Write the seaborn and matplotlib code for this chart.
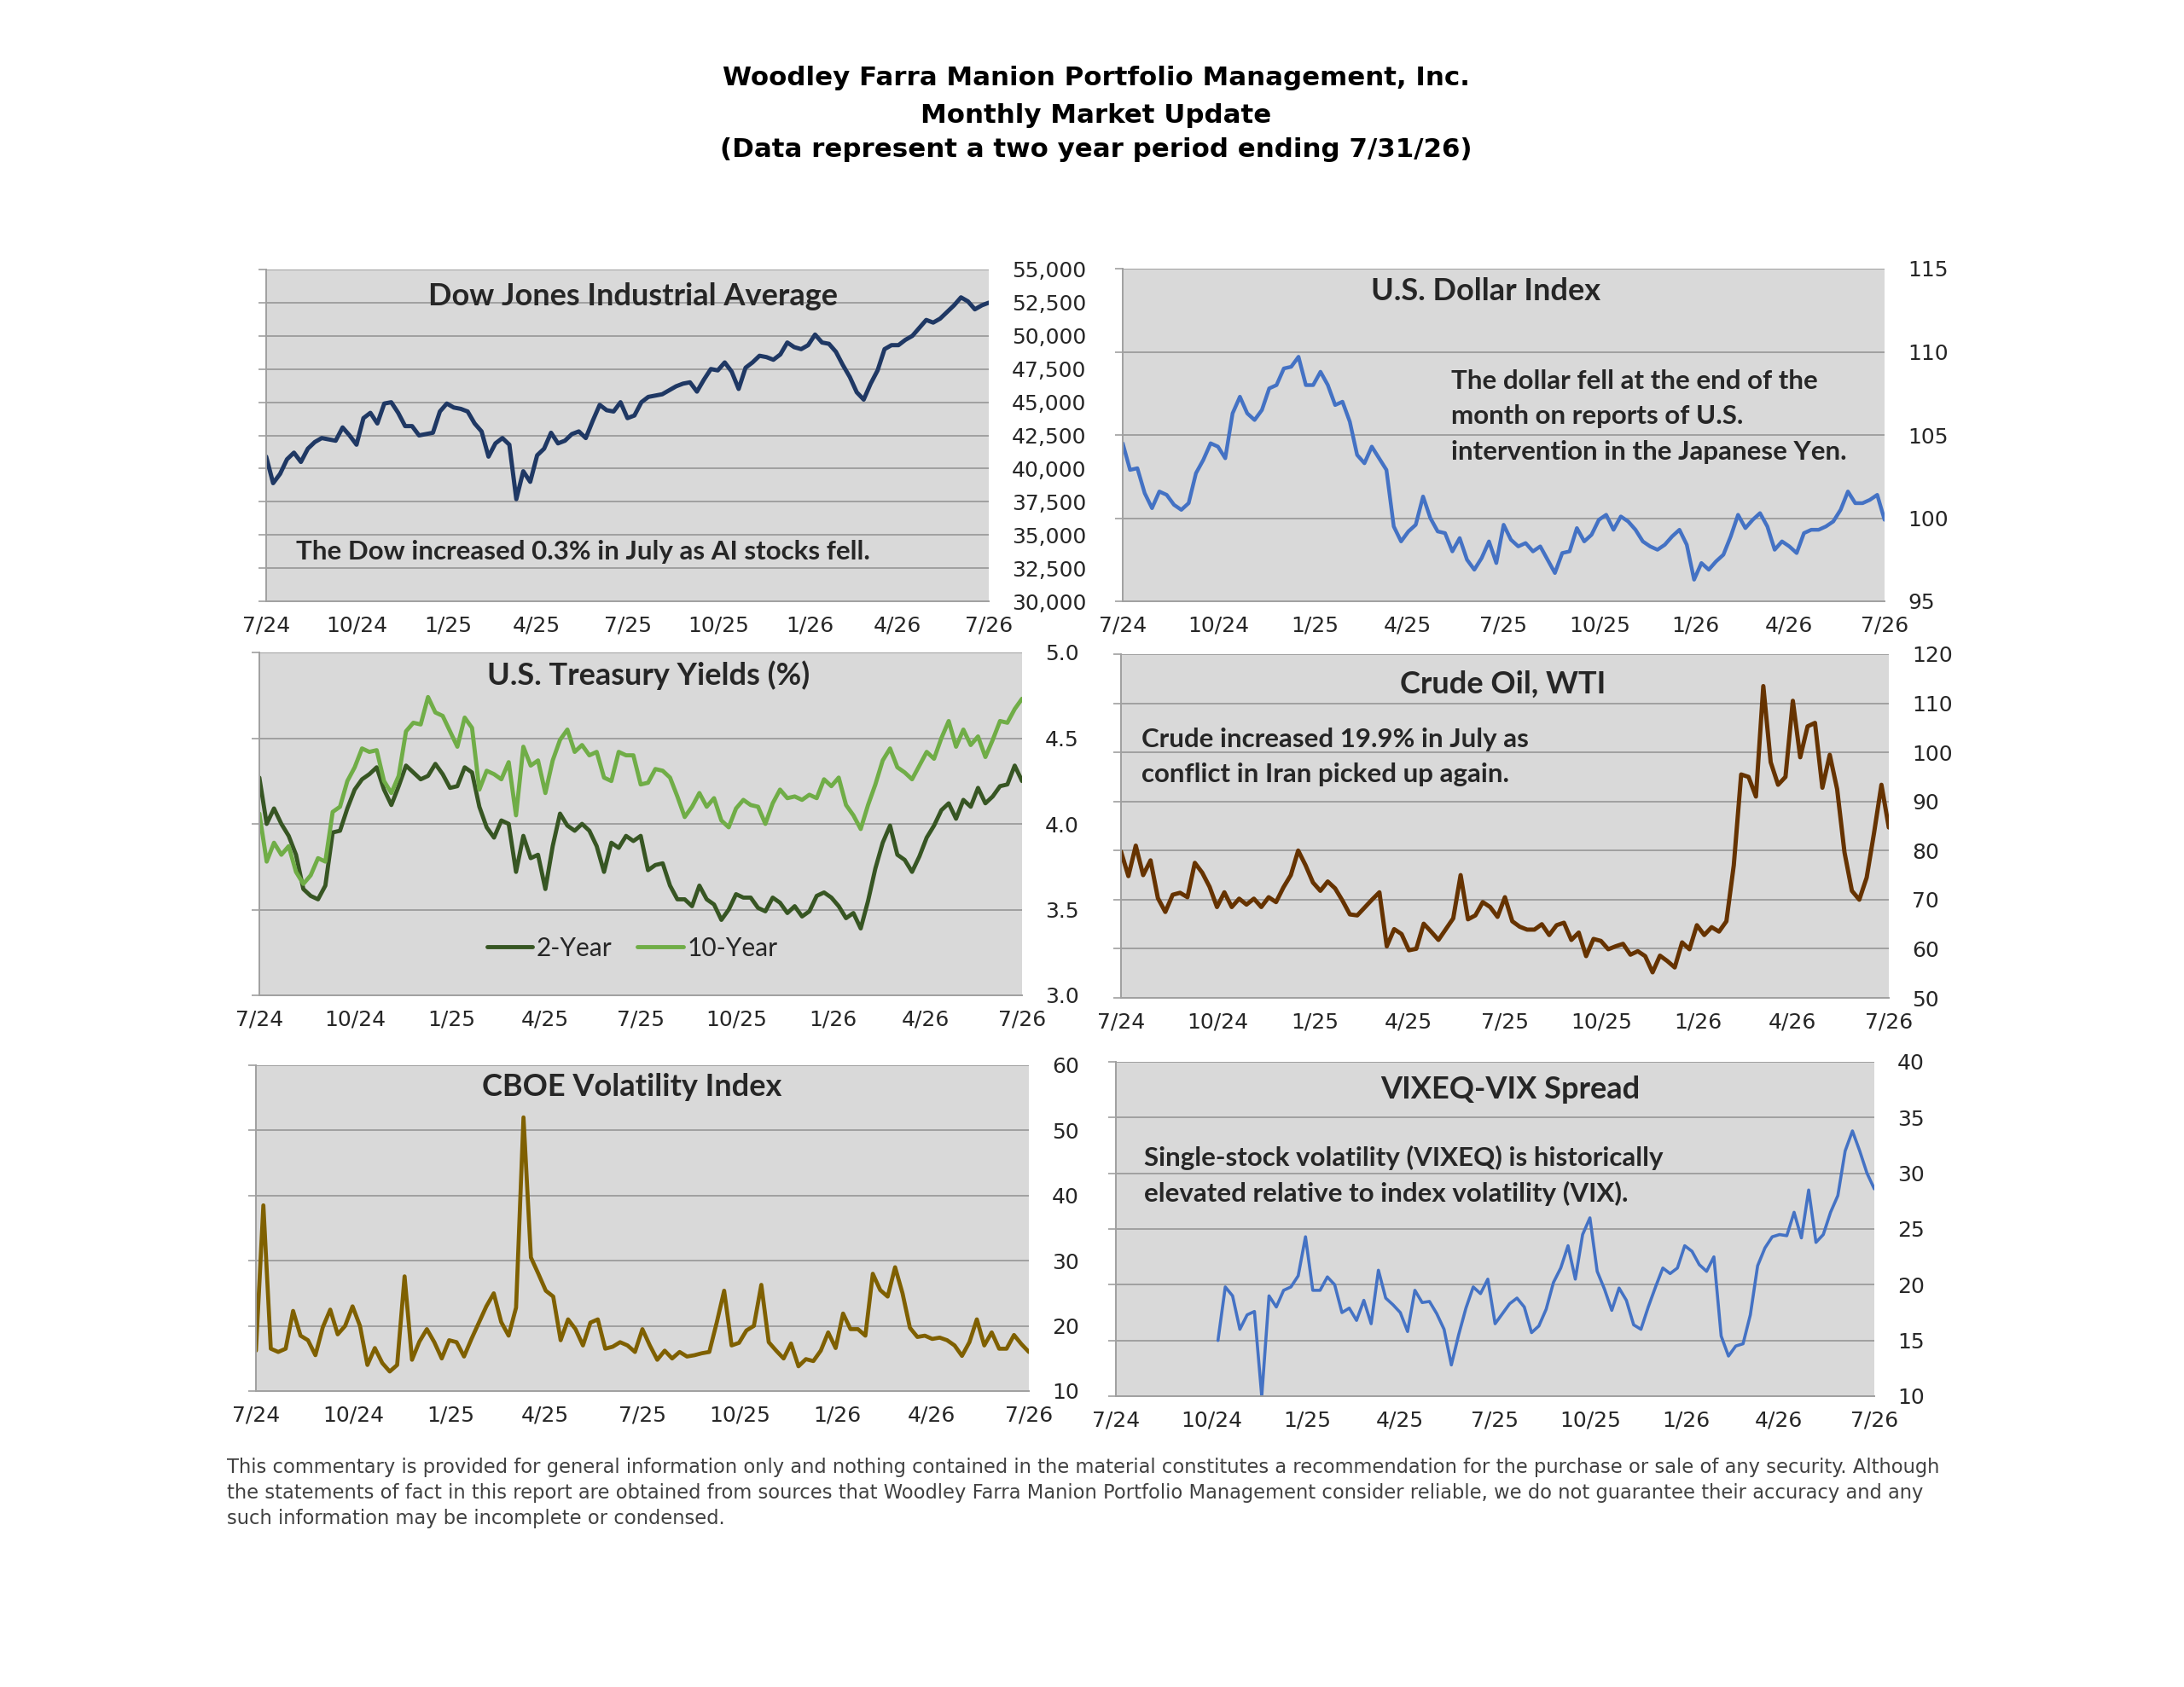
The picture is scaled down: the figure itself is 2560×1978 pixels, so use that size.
import numpy as np
import pandas as pd
import seaborn as sns
import matplotlib.pyplot as plt
from matplotlib.ticker import FuncFormatter

sns.set_style("white")
plt.rcParams["font.family"] = ["DejaVu Sans"]

# weekly values, 7/31/24 .. 7/31/26
dow = [40900, 38900, 39600, 40700, 41200, 40500, 41500, 42000, 42300, 42200,
       42100, 43100, 42500, 41800, 43800, 44200, 43400, 44900, 45000, 44200,
       43200, 43200, 42500, 42600, 42700, 44300, 44900, 44600, 44500, 44300,
       43400, 42800, 40900, 41900, 42300, 41800, 37700, 39800, 39000, 41000,
       41500, 42700, 41900, 42100, 42600, 42800, 42300, 43600, 44800, 44400,
       44300, 45000, 43800, 44000, 45000, 45400, 45500, 45600, 45900, 46200,
       46400, 46500, 45800, 46700, 47500, 47400, 48000, 47300, 46000, 47600,
       48000, 48500, 48400, 48200, 48600, 49500, 49150, 49000, 49300, 50100,
       49500, 49400, 48800, 47800, 46900, 45750, 45200, 46400, 47400, 49000,
       49300, 49300, 49700, 50000, 50600, 51200, 51000, 51300, 51800, 52300,
       52900, 52600, 52000, 52300, 52500]

dollar = [104.5, 102.9, 103.0, 101.5, 100.6, 101.6, 101.4, 100.8, 100.5, 100.9,
          102.7, 103.5, 104.5, 104.3, 103.6, 106.3, 107.3, 106.3, 105.9, 106.5,
          107.8, 108.0, 109.0, 109.1, 109.7, 108.0, 108.0, 108.8, 108.0, 106.8,
          107.0, 105.8, 103.8, 103.3, 104.3, 103.6, 102.9, 99.5, 98.6, 99.2,
          99.6, 101.3, 100.0, 99.2, 99.1, 98.0, 98.8, 97.5, 96.9, 97.6,
          98.6, 97.3, 99.6, 98.7, 98.3, 98.5, 98.0, 98.3, 97.5, 96.7,
          97.9, 98.0, 99.4, 98.6, 99.0, 99.9, 100.2, 99.3, 100.1, 99.8,
          99.3, 98.6, 98.3, 98.1, 98.4, 98.9, 99.3, 98.4, 96.3, 97.3,
          96.9, 97.4, 97.8, 98.9, 100.2, 99.4, 99.9, 100.3, 99.5, 98.1,
          98.6, 98.3, 97.9, 99.1, 99.3, 99.3, 99.5, 99.8, 100.5, 101.6,
          100.9, 100.9, 101.1, 101.4, 99.9]

two_year = [4.27, 4.00, 4.09, 4.00, 3.93, 3.82, 3.62, 3.58, 3.56, 3.64,
            3.95, 3.96, 4.09, 4.20, 4.26, 4.29, 4.33, 4.20, 4.11, 4.22,
            4.34, 4.30, 4.26, 4.28, 4.35, 4.29, 4.21, 4.22, 4.33, 4.30,
            4.10, 3.98, 3.92, 4.02, 4.00, 3.72, 3.93, 3.80, 3.82, 3.62,
            3.87, 4.06, 3.99, 3.96, 4.00, 3.96, 3.87, 3.72, 3.89, 3.86,
            3.93, 3.90, 3.93, 3.73, 3.76, 3.77, 3.64, 3.56, 3.56, 3.52,
            3.64, 3.56, 3.53, 3.44, 3.50, 3.59, 3.57, 3.57, 3.51, 3.49,
            3.57, 3.54, 3.48, 3.52, 3.46, 3.49, 3.58, 3.60, 3.57, 3.52,
            3.45, 3.48, 3.39, 3.55, 3.74, 3.89, 3.99, 3.82, 3.79, 3.72,
            3.81, 3.92, 3.99, 4.08, 4.12, 4.03, 4.14, 4.10, 4.21, 4.12,
            4.16, 4.22, 4.23, 4.34, 4.25]

ten_year = [4.06, 3.78, 3.89, 3.82, 3.87, 3.72, 3.65, 3.70, 3.80, 3.78,
            4.07, 4.10, 4.25, 4.33, 4.44, 4.42, 4.43, 4.25, 4.18, 4.28,
            4.54, 4.59, 4.58, 4.74, 4.65, 4.63, 4.54, 4.45, 4.62, 4.56,
            4.20, 4.31, 4.29, 4.26, 4.36, 4.05, 4.45, 4.34, 4.37, 4.18,
            4.37, 4.49, 4.55, 4.42, 4.46, 4.40, 4.42, 4.27, 4.25, 4.42,
            4.40, 4.40, 4.23, 4.24, 4.32, 4.31, 4.27, 4.16, 4.04, 4.10,
            4.18, 4.10, 4.15, 4.02, 3.98, 4.09, 4.14, 4.11, 4.10, 4.00,
            4.12, 4.20, 4.15, 4.16, 4.14, 4.17, 4.15, 4.26, 4.22, 4.27,
            4.11, 4.05, 3.97, 4.11, 4.23, 4.37, 4.44, 4.33, 4.30, 4.26,
            4.34, 4.42, 4.38, 4.50, 4.60, 4.45, 4.55, 4.46, 4.51, 4.39,
            4.49, 4.60, 4.59, 4.67, 4.73]

crude = [79.8, 74.8, 81.0, 75.0, 78.0, 70.3, 67.5, 71.0, 71.4, 70.5,
         77.5, 75.5, 72.6, 68.5, 71.5, 68.5, 70.2, 69.0, 70.2, 68.5,
         70.5, 69.5, 72.5, 75.0, 80.0, 77.0, 73.5, 71.8, 73.7, 72.3,
         69.8, 67.0, 66.8, 68.4, 70.0, 71.5, 60.5, 64.0, 63.0, 59.7,
         60.0, 65.1, 63.5, 61.8, 64.0, 66.2, 75.0, 66.0, 66.8, 69.5,
         68.5, 66.5, 70.5, 65.6, 64.5, 63.9, 63.9, 65.0, 62.8, 64.8,
         65.3, 61.8, 63.3, 58.5, 62.0, 61.6, 59.9, 60.5, 61.0, 58.8,
         59.5, 58.5, 55.2, 58.6, 57.5, 56.2, 61.3, 59.9, 64.8, 62.8,
         64.4, 63.5, 65.6, 77.0, 95.5, 95.0, 91.0, 113.5, 98.0, 93.4,
         95.0, 110.5, 99.0, 105.3, 106.0, 92.8, 99.5, 92.5, 79.6, 71.8,
         70.0, 74.5, 83.6, 93.4, 84.7]

vix = [16.2, 38.5, 16.5, 16.0, 16.5, 22.3, 18.5, 17.8, 15.5, 19.8,
       22.5, 18.7, 20.0, 23.0, 20.0, 14.0, 16.6, 14.3, 13.0, 14.0,
       27.6, 14.8, 17.6, 19.5, 17.5, 15.0, 17.8, 17.5, 15.3, 18.0,
       20.5, 23.0, 25.0, 20.6, 18.5, 22.8, 52.0, 30.5, 28.0, 25.4,
       24.5, 17.8, 21.0, 19.5, 17.0, 20.5, 21.0, 16.5, 16.8, 17.5,
       17.0, 16.0, 19.5, 17.0, 14.8, 16.2, 15.0, 16.0, 15.3, 15.5,
       15.8, 16.0, 20.5, 25.4, 17.0, 17.4, 19.3, 20.0, 26.3, 17.5,
       16.2, 15.0, 17.3, 13.8, 14.9, 14.6, 16.2, 19.0, 16.6, 21.9,
       19.5, 19.5, 18.5, 28.0, 25.5, 24.5, 29.0, 25.0, 19.7, 18.3,
       18.5, 18.0, 18.2, 17.8, 17.0, 15.4, 17.5, 21.0, 17.0, 19.0,
       16.5, 16.5, 18.6, 17.2, 16.0]

# VIXEQ series only starts in October 2024
vixeq = [np.nan] * 14 + [
    15.0, 19.8, 19.0, 16.0, 17.3, 17.6, 10.0, 19.0, 18.0, 19.5,
    19.8, 20.8, 24.3, 19.5, 19.5, 20.7, 20.0, 17.5, 17.9, 16.8,
    18.6, 16.5, 21.3, 18.8, 18.2, 17.5, 15.8, 19.5, 18.4, 18.5,
    17.4, 16.0, 12.8, 15.5, 17.9, 19.8, 19.2, 20.5, 16.5, 17.4,
    18.3, 18.8, 18.0, 15.7, 16.3, 17.8, 20.2, 21.5, 23.5, 20.5,
    24.5, 26.0, 21.2, 19.6, 17.7, 19.7, 18.6, 16.4, 16.0, 18.0,
    19.8, 21.5, 21.0, 21.5, 23.5, 23.0, 21.8, 21.2, 22.5, 15.4,
    13.6, 14.5, 14.7, 17.3, 21.7, 23.3, 24.3, 24.5, 24.4, 26.5,
    24.2, 28.5, 23.8, 24.5, 26.5, 28.0, 32.0, 33.8, 32.0, 30.0,
    28.6]

tick_dates = ["2024-07-31", "2024-10-31", "2025-01-31", "2025-04-30", "2025-07-31",
              "2025-10-31", "2026-01-31", "2026-04-30", "2026-07-31"]
tick_labels = ["7/24", "10/24", "1/25", "4/25", "7/25", "10/25", "1/26", "4/26", "7/26"]

dates = pd.date_range("2024-07-31", "2026-07-31", periods=len(dow))

W, H = 2560, 1978
GRID = "#A0A0A0"
BG = "#D9D9D9"
HEAD = ["Lato", "DejaVu Sans"]

fig = plt.figure(figsize=(W / 100, H / 100), dpi=100)


def panel(box, lo, hi, step, fmt):
    x0, y0, x1, y1 = box
    ax = fig.add_axes([x0 / W, 1 - y1 / H, (x1 - x0) / W, (y1 - y0) / H])
    ax.set_facecolor(BG)
    ax.set_ylim(lo, hi)
    ax.set_yticks(np.arange(lo, hi + step / 2, step))
    ax.yaxis.set_major_formatter(FuncFormatter(lambda v, p: fmt.format(v)))
    ax.set_xlim(pd.Timestamp(tick_dates[0]), pd.Timestamp(tick_dates[-1]))
    ax.set_xticks(pd.to_datetime(tick_dates))
    ax.set_xticklabels(tick_labels)
    ax.tick_params(axis="y", left=True, right=False, labelleft=False, labelright=True,
                   length=6.5, width=1.2, color=GRID, direction="out", pad=13, labelsize=18)
    ax.tick_params(axis="x", length=5, width=1.2, color=GRID, direction="out", pad=7,
                   labelsize=18)
    ax.grid(axis="y", color=GRID, lw=1.4)
    ax.grid(axis="x", visible=False)
    ax.set_axisbelow(True)
    for s in ["top", "right"]:
        ax.spines[s].set_visible(False)
    for s in ["left", "bottom"]:
        ax.spines[s].set_color(GRID)
        ax.spines[s].set_linewidth(1.4)
    return ax


def head(ax, x, y, txt):
    ax.text(x, y, txt, transform=ax.transAxes, ha="center", va="center",
            fontsize=26, fontweight="bold", family=HEAD)


def note(ax, x, ys, lines):
    for y, t in zip(ys, lines):
        ax.text(x, y, t, transform=ax.transAxes, ha="left", va="center",
                fontsize=22.5, fontweight="bold", family=HEAD)


# Dow
ax = panel((312, 316, 1159, 705), 30000, 55000, 2500, "{:,.0f}")
sns.lineplot(x=dates, y=dow, ax=ax, color="#1F3864", linewidth=3.6)
ax.set(xlabel="", ylabel="")
head(ax, 0.508, 0.918, "Dow Jones Industrial Average")
note(ax, 0.041, [0.149], ["The Dow increased 0.3% in July as AI stocks fell."])

# Dollar
ax = panel((1316, 315, 2209, 705), 95, 115, 5, "{:.0f}")
sns.lineplot(x=dates, y=dollar, ax=ax, color="#4472C4", linewidth=3.2)
ax.set(xlabel="", ylabel="")
head(ax, 0.477, 0.931, "U.S. Dollar Index")
note(ax, 0.431, [0.662, 0.556, 0.449],
     ["The dollar fell at the end of the", "month on reports of U.S.",
      "intervention in the Japanese Yen."])

# Treasuries
ax = panel((304, 765, 1198, 1167), 3.0, 5.0, 0.5, "{:.1f}")
yields = pd.DataFrame({
    "date": list(dates) * 2,
    "yield": two_year + ten_year,
    "series": ["2-Year"] * len(two_year) + ["10-Year"] * len(ten_year),
})
sns.lineplot(data=yields, x="date", y="yield", hue="series", hue_order=["2-Year", "10-Year"],
             palette={"2-Year": "#375623", "10-Year": "#70AD47"}, linewidth=3.5, ax=ax)
ax.set(xlabel="", ylabel="")
ax.legend(frameon=False, ncol=2, loc="center", bbox_to_anchor=(0.489, 0.137),
          prop={"family": HEAD, "size": 21.5}, handlelength=1.8, handletextpad=0.15,
          columnspacing=1.0)
head(ax, 0.510, 0.933, "U.S. Treasury Yields (%)")

# Crude
ax = panel((1314, 767, 2214, 1170), 50, 120, 10, "{:.0f}")
sns.lineplot(x=dates, y=crude, ax=ax, color="#663300", linewidth=3.6)
ax.set(xlabel="", ylabel="")
head(ax, 0.497, 0.913, "Crude Oil, WTI")
note(ax, 0.027, [0.752, 0.650],
     ["Crude increased 19.9% in July as", "conflict in Iran picked up again."])

# VIX
ax = panel((300, 1249, 1206, 1631), 10, 60, 10, "{:.0f}")
sns.lineplot(x=dates, y=vix, ax=ax, color="#7F6000", linewidth=3.4)
ax.set(xlabel="", ylabel="")
head(ax, 0.486, 0.932, "CBOE Volatility Index")

# VIXEQ - VIX
ax = panel((1308, 1245, 2197, 1637), 10, 40, 5, "{:.0f}")
sns.lineplot(x=dates, y=vixeq, ax=ax, color="#4472C4", linewidth=2.6)
ax.set(xlabel="", ylabel="")
head(ax, 0.520, 0.918, "VIXEQ-VIX Spread")
note(ax, 0.037, [0.712, 0.605],
     ["Single-stock volatility (VIXEQ) is historically",
      "elevated relative to index volatility (VIX)."])

# page header
for y, t in zip([92, 135, 175], ["Woodley Farra Manion Portfolio Management, Inc.",
                                 "Monthly Market Update",
                                 "(Data represent a two year period ending 7/31/26)"]):
    fig.text(1285 / W, 1 - y / H, t, ha="center", va="center", fontsize=22.2,
             fontweight="bold", color="black")

foot = ["This commentary is provided for general information only and nothing contained in the "
        "material constitutes a recommendation for the purchase or sale of any security. Although",
        "the statements of fact in this report are obtained from sources that Woodley Farra Manion "
        "Portfolio Management consider reliable, we do not guarantee their accuracy and any",
        "such information may be incomplete or condensed."]
for y, t in zip([1720, 1750, 1780], foot):
    fig.text(266 / W, 1 - y / H, t, ha="left", va="center", fontsize=16.3, color="#404040")

fig.savefig("out.png", dpi=100)
